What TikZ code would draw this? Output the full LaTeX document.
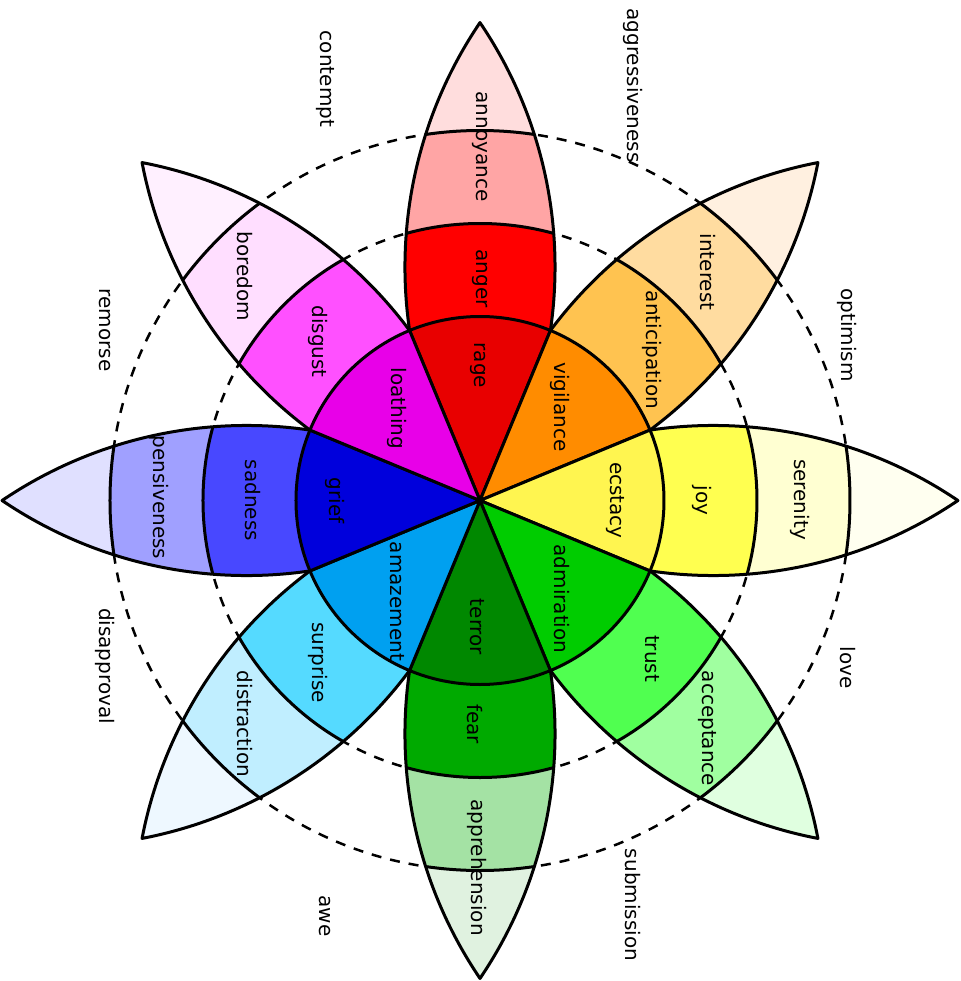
\documentclass[tikz,border=0pt]{standalone}
\usepackage{fontspec}
\setmainfont{DejaVu Sans}
\usetikzlibrary{positioning}
\definecolor{c-rage}{HTML}{E80000}
\definecolor{c-anger}{HTML}{FF0000}
\definecolor{c-annoy}{HTML}{FFA5A5}
\definecolor{c-redtip}{HTML}{FFDDDD}
\definecolor{c-vigil}{HTML}{FF8C00}
\definecolor{c-antic}{HTML}{FFC350}
\definecolor{c-inter}{HTML}{FFDCA0}
\definecolor{c-orangetip}{HTML}{FFF0E0}
\definecolor{c-ecst}{HTML}{FFF550}
\definecolor{c-joy}{HTML}{FFFF50}
\definecolor{c-seren}{HTML}{FFFFD2}
\definecolor{c-yellowtip}{HTML}{FFFFF0}
\definecolor{c-admir}{HTML}{00CC00}
\definecolor{c-trust}{HTML}{50FF50}
\definecolor{c-accept}{HTML}{A0FFA0}
\definecolor{c-greentip}{HTML}{E0FFE0}
\definecolor{c-terror}{HTML}{008800}
\definecolor{c-fear}{HTML}{00AA00}
\definecolor{c-appre}{HTML}{A4E2A4}
\definecolor{c-darktip}{HTML}{E0F2E0}
\definecolor{c-amaze}{HTML}{00A0F0}
\definecolor{c-surpr}{HTML}{55DAFF}
\definecolor{c-distr}{HTML}{C0EEFF}
\definecolor{c-cyantip}{HTML}{EEF8FF}
\definecolor{c-grief}{HTML}{0000DC}
\definecolor{c-sad}{HTML}{4848FF}
\definecolor{c-pens}{HTML}{A0A0FF}
\definecolor{c-bluetip}{HTML}{E0E0FF}
\definecolor{c-loath}{HTML}{E800E8}
\definecolor{c-disg}{HTML}{FF50FF}
\definecolor{c-bored}{HTML}{FFDEFF}
\definecolor{c-magtip}{HTML}{FFF0FF}

\begin{document}
\begin{tikzpicture}[x=0.5pt,y=0.5pt,
  lbl/.style={rotate=-90,font=\fontsize{10}{12}\selectfont,inner sep=0pt},
  petalline/.style={line width=1.5pt,line join=round},
  guide/.style={line width=1.25pt,dash pattern=on 5pt off 4.5pt}]
\useasboundingbox (-480,-480.5) rectangle (480,500.5);

\draw[guide] (0,0) circle (277);
\draw[guide] (0,0) circle (370);

% petals: inner / middle / outer / tip
\foreach \ang/\ca/\cb/\cc/\cd in {90/c-rage/c-anger/c-annoy/c-redtip,
    45/c-vigil/c-antic/c-inter/c-orangetip,
    0/c-ecst/c-joy/c-seren/c-yellowtip,
    -45/c-admir/c-trust/c-accept/c-greentip,
    -90/c-terror/c-fear/c-appre/c-darktip,
    -135/c-amaze/c-surpr/c-distr/c-cyantip,
    180/c-grief/c-sad/c-pens/c-bluetip,
    135/c-loath/c-disg/c-bored/c-magtip}{
  \begin{scope}[rotate=\ang]
    \path[clip] (0,0) -- (22.5:184) arc[start angle=98.36,end angle=55.88,radius=436]
      arc[start angle=-55.88,end angle=-98.36,radius=436] -- cycle;
    \fill[\cd] (-10,-100) rectangle (490,100);
    \fill[\cc] (0,0) circle (370);
    \fill[\cb] (0,0) circle (277);
    \fill[\ca] (0,0) circle (184);
    \draw[petalline] (0,0) circle (277) (0,0) circle (370);
  \end{scope}
  \draw[petalline,rotate=\ang] (0,0) -- (22.5:184) arc[start angle=98.36,end angle=55.88,radius=436]
      arc[start angle=-55.88,end angle=-98.36,radius=436] -- cycle;
}
\draw[petalline] (0,0) circle (184);

\node[lbl] (rage) at (-2,135) {rage};
\node[lbl] (vigilance) at (80,93.5) {vigilance};
\node[lbl] (ecstacy) at (135,0) {ecstacy};
\node[lbl] (admiration) at (82,-98.5) {admiration};
\node[lbl] (terror) at (-3,-126.5) {terror};
\node[lbl] (amazement) at (-83,-101) {amazement};
\node[lbl] (grief) at (-145,0) {grief};
\node[lbl] (loathing) at (-83,92) {loathing};

\node[lbl] (anger) at (0,222) {anger};
\node[lbl] (anticipation) at (172,150.5) {anticipation};
\node[lbl] (joy) at (222,0) {joy};
\node[lbl] (trust) at (172,-158) {trust};
\node[lbl] (fear) at (-5,-223.5) {fear};
\node[lbl] (surprise) at (-162,-162) {surprise};
\node[lbl] (sadness) at (-227,0) {sadness};
\node[lbl] (disgust) at (-162,159) {disgust};

\node[lbl] (annoyance) at (0,354) {annoyance};
\node[lbl] (interest) at (228,228.5) {interest};
\node[lbl] (serenity) at (320,1) {serenity};
\node[lbl] (acceptance) at (227,-228) {acceptance};
\node[lbl] (apprehension) at (-3,-367) {apprehension};
\node[lbl] (distraction) at (-235,-223.5) {distraction};
\node[lbl] (pensiveness) at (-321,3) {pensiveness};
\node[lbl] (boredom) at (-235,224) {boredom};

\node[lbl] (aggressiveness) at (153,415) {aggressiveness};
\node[lbl] (optimism) at (367,165.5) {optimism};
\node[lbl] (love) at (368,-167) {love};
\node[lbl] (submission) at (153,-404.5) {submission};
\node[lbl] (awe) at (-155,-415.5) {awe};
\node[lbl] (disapproval) at (-375,-165.5) {disapproval};
\node[lbl] (remorse) at (-375,170.5) {remorse};
\node[lbl] (contempt) at (-155,421.5) {contempt};
\end{tikzpicture}
\end{document}
